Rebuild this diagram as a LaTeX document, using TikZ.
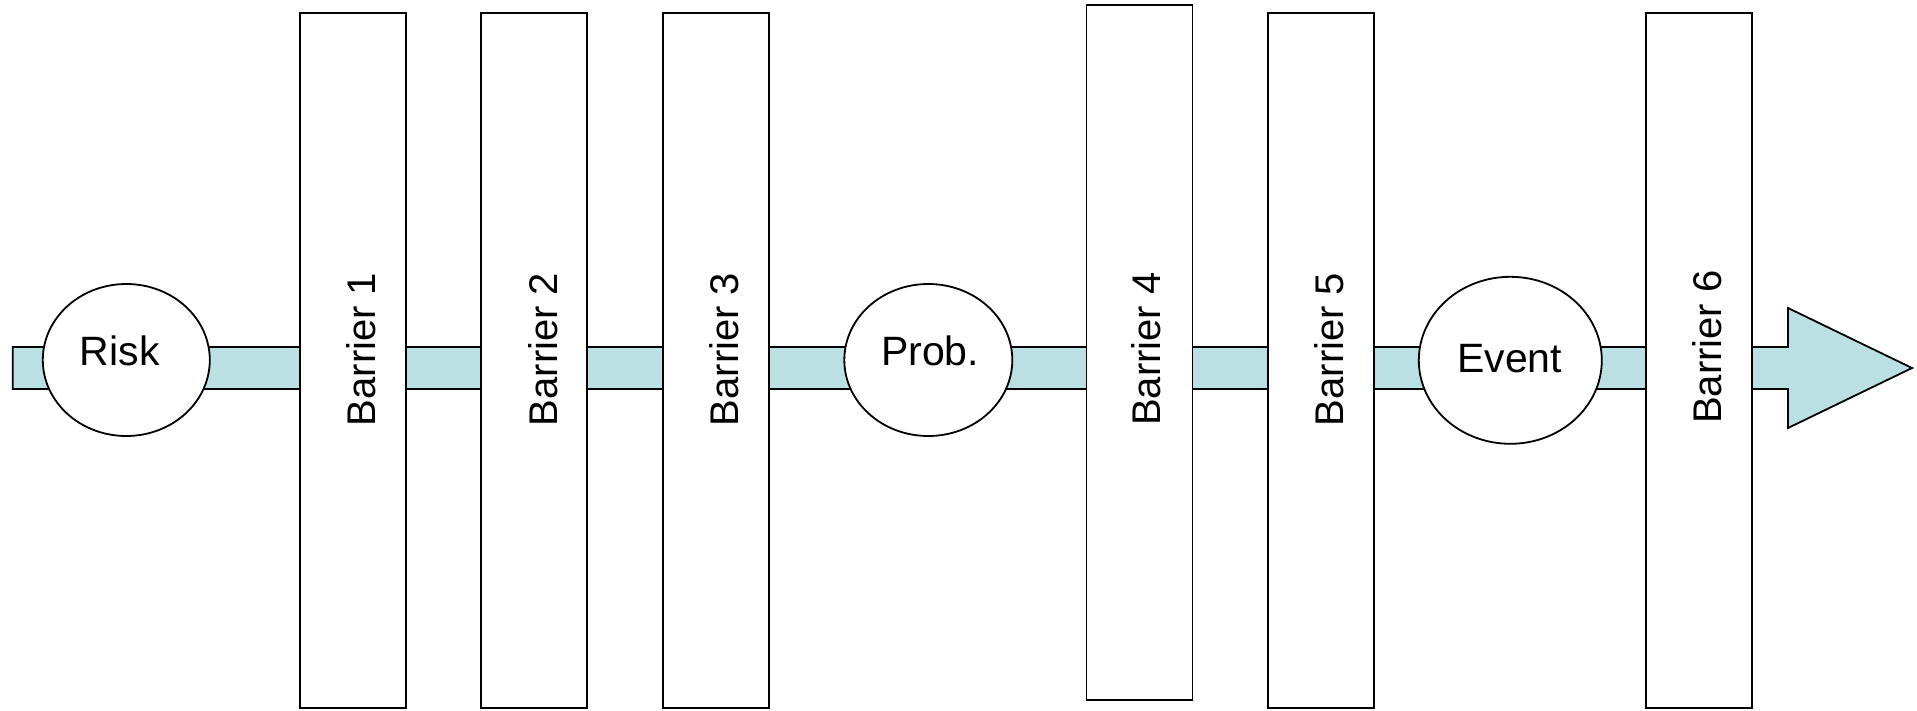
\documentclass[tikz,border=0pt]{standalone}
\usepackage{fontspec}
\setmainfont{Liberation Sans}
\usetikzlibrary{shapes.geometric}
\definecolor{bandblue}{RGB}{186,224,227}
\tikzset{
  barrier/.style={draw=black, line width=1.8pt, fill=white, rectangle, inner sep=0pt, minimum width=106pt, minimum height=695pt},
  oval/.style={draw=black, line width=1.8pt, fill=white, ellipse, inner sep=0pt},
  blabel/.style={rotate=90, inner sep=0pt, font=\fontsize{40}{48}\selectfont},
  olabel/.style={inner sep=0pt, font=\fontsize{41}{49}\selectfont},
  band/.style={draw=black, line width=1.8pt, fill=bandblue, line join=miter}
}
\begin{document}
\begin{tikzpicture}[x=1pt,y=-1pt]
\useasboundingbox (0,0) rectangle (1917,710);
% flow band with arrow head
\coordinate (bandstart) at (12.7,368);
\coordinate (tip) at (1912,368);
\draw[band] (12.7,347) -- (1788,347) -- (1788,308) -- (tip) -- (1788,428) -- (1788,389) -- (12.7,389) -- cycle;
% barriers
\node[barrier] (b1) at (353,360.5) {};
\node[barrier] (b2) at (534.3,360.5) {};
\node[barrier] (b3) at (716,360.5) {};
\node[barrier] (b4) at (1139.5,352.8) {};
\node[barrier] (b5) at (1321.3,360.5) {};
\node[barrier] (b6) at (1699.3,360.5) {};
\node[blabel] (b1l) at (361.5,349.5) {Barrier 1};
\node[blabel] (b2l) at (542.8,349.5) {Barrier 2};
\node[blabel] (b3l) at (724.5,349.5) {Barrier 3};
\node[blabel] (b4l) at (1146.5,349) {Barrier 4};
\node[blabel] (b5l) at (1329.3,349.5) {Barrier 5};
\node[blabel] (b6l) at (1707,347) {Barrier 6};
% ovals
\node[oval, minimum width=167pt, minimum height=152pt] (risk) at (126.3,360) {};
\node[oval, minimum width=168pt, minimum height=152pt] (prob) at (928.3,360) {};
\node[oval, minimum width=183pt, minimum height=167pt] (event) at (1510.3,360.3) {};
\node[olabel] (riskl) at (119.7,350.5) {Risk};
\node[olabel] (probl) at (930,350.5) {Prob.};
\node[olabel] (eventl) at (1509.7,359) {Event};
\end{tikzpicture}
\end{document}
